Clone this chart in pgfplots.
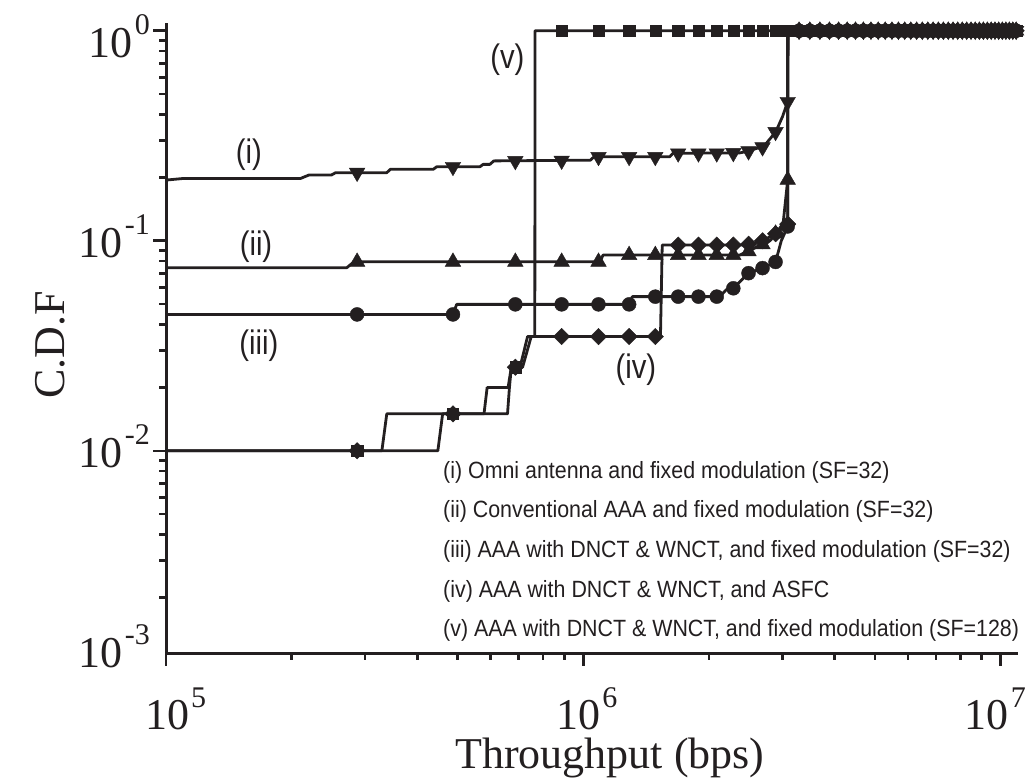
\documentclass[border=0pt]{standalone}
\usepackage{fontspec}
\setmainfont{Liberation Serif}
\newfontfamily\lsans[FakeStretch=0.91]{Liberation Sans}
\newfontfamily\csans[FakeStretch=0.86]{Liberation Sans}
\usepackage{pgfplots}
\usepackage{pgfplotstable}
\pgfplotsset{compat=1.18}
\definecolor{ink}{HTML}{231F20}
\newcommand\tl[1]{10\kern2pt\raisebox{0.52em}{\fontsize{30pt}{30pt}\selectfont #1}}
\newcommand\tlx[2]{\makebox[0pt][l]{\hspace*{#1}\tl{#2}}}

\pgfplotstableread{
x y
100000 0.1945
110000 0.198
210000 0.198
220000 0.2056
249000 0.2056
255000 0.211
338000 0.211
345000 0.219
437000 0.219
445000 0.225
565000 0.225
575000 0.231
597000 0.231
610000 0.240
1040000 0.242
1060000 0.251
1610000 0.251
1640000 0.261
2370000 0.262
2500000 0.268
2600000 0.2755
2700000 0.28
2890000 0.33
3000000 0.39
3087000 0.459
3090000 1
11000000 1
}\ci
\pgfplotstableread{
x y
287000 0.211
487000 0.225
687000 0.240
887000 0.241
1087000 0.251
1287000 0.251
1487000 0.251
1687000 0.261
1887000 0.261
2087000 0.261
2287000 0.262
2487000 0.267
2687000 0.279
2887000 0.33
3087000 0.459
}\mi
\pgfplotstableread{
x y
100000 0.0744
271000 0.0744
282000 0.0794
1095000 0.0794
1115000 0.0855
2370000 0.0855
2800000 0.1
2860000 0.105
3010000 0.121
3087000 0.195
3090000 1
11000000 1
}\cii
\pgfplotstableread{
x y
287000 0.0794
487000 0.0794
687000 0.0794
887000 0.0794
1087000 0.0794
1287000 0.0855
1487000 0.0855
1687000 0.0855
1887000 0.0855
2087000 0.0855
2287000 0.0855
2487000 0.089
2687000 0.096
2887000 0.108
3087000 0.195
}\mii
\pgfplotstableread{
x y
100000 0.0446
487000 0.0446
497000 0.0498
1290000 0.0498
1310000 0.0542
2120000 0.0542
2200000 0.0585
2287000 0.0594
2487000 0.0701
2687000 0.0741
2887000 0.0793
2980000 0.10
3087000 0.117
3090000 1
11000000 1
}\ciii
\pgfplotstableread{
x y
287000 0.0446
487000 0.0446
687000 0.0498
887000 0.0498
1087000 0.0498
1287000 0.0498
1487000 0.0542
1687000 0.0542
1887000 0.0542
2087000 0.0542
2287000 0.0594
2487000 0.0701
2687000 0.0741
2887000 0.0793
3087000 0.117
}\miii
\pgfplotstableread{
x y
100000 0.01
448000 0.01
460000 0.015
658000 0.015
665000 0.02
672000 0.025
715000 0.025
750000 0.035
1530000 0.035
1545000 0.0954
2450000 0.0954
2687000 0.10
2887000 0.108
3087000 0.12
3090000 1
11000000 1
}\civ
\pgfplotstableread{
x y
287000 0.01
487000 0.015
687000 0.025
887000 0.035
1087000 0.035
1287000 0.035
1487000 0.035
1687000 0.0954
1887000 0.0954
2087000 0.0954
2287000 0.0954
2487000 0.0963
2687000 0.10
2887000 0.108
3087000 0.12
}\miv
\pgfplotstableread{
x y
100000 0.01
329000 0.01
338000 0.015
578000 0.015
588000 0.02
660000 0.02
672000 0.025
705000 0.025
735000 0.035
765000 0.035
766000 1
11000000 1
}\cv
\pgfplotstableread{
x y
287000 0.01
487000 0.015
687000 0.025
887000 1
1087000 1
1287000 1
1487000 1
1687000 1
1887000 1
2087000 1
2287000 1
2487000 1
2687000 1
2887000 1
3087000 1
}\mv
\pgfplotstableread{
x y
3287000 1
3487000 1
3687000 1
3887000 1
4087000 1
4287000 1
4487000 1
4687000 1
4887000 1
5087000 1
5287000 1
5487000 1
5687000 1
5887000 1
6087000 1
6287000 1
6487000 1
6687000 1
6887000 1
7087000 1
7287000 1
7487000 1
7687000 1
7887000 1
8087000 1
8287000 1
8487000 1
8687000 1
8887000 1
9087000 1
9287000 1
9487000 1
9687000 1
9887000 1
10087000 1
10287000 1
10487000 1
10687000 1
10887000 1
}\band

\begin{document}
\begin{tikzpicture}
\useasboundingbox (-166pt,-125pt) rectangle (859pt,653pt);
\begin{axis}[
  at={(0pt,0pt)}, anchor=south west,
  scale only axis, width=852pt, height=630.3pt,
  xmode=log, ymode=log,
  xmin=1e5, xmax=1.1e7, ymin=1.09e-3, ymax=1.092,
  axis x line*=bottom, axis y line*=left,
  axis line style={line width=3pt, ink},
  tick align=outside,
  major tick length=13pt, minor tick length=7pt,
  every tick/.style={line width=2.6pt, ink},
  xtick={1e5,1e6,1e7}, xticklabels={\tlx{-21pt}{5},\tlx{-27pt}{6},\tlx{-36pt}{7}},
  minor xtick={2e5,3e5,4e5,5e5,6e5,7e5,8e5,9e5,2e6,3e6,4e6,5e6,6e6,7e6,8e6,9e6},
  ytick={1e-2,1e-1,1}, yticklabels={\tl{-2},\tl{-1},\raisebox{-10pt}{\tl{0}}},
  minor ytick={2e-3,3e-3,4e-3,5e-3,6e-3,7e-3,8e-3,9e-3,2e-2,3e-2,4e-2,5e-2,6e-2,7e-2,8e-2,9e-2,2e-1,3e-1,4e-1,5e-1,6e-1,7e-1,8e-1,9e-1},
  tick label style={font=\fontsize{44pt}{48pt}\selectfont, text=ink, inner sep=0pt},
  yticklabel style={anchor=base east, xshift=-3pt, yshift=-17pt},
  xticklabel style={anchor=base, yshift=-64pt},
  xlabel={Throughput (bps)},
  xlabel style={at={(axis description cs:0.521,-0.1825)}, anchor=base, font=\fontsize{44pt}{48pt}\selectfont, inner sep=0pt, text=ink},
  ylabel={C.D.F},
  ylabel style={at={(axis description cs:-0.1197,0.489)}, anchor=base, font=\fontsize{44pt}{48pt}\selectfont, inner sep=0pt, text=ink},
  clip=false,
]
\addplot[ink, line width=2.8pt, line join=round] table {\ci};
\addplot[ink, line width=2.8pt, line join=round] table {\cii};
\addplot[ink, line width=2.8pt, line join=round] table {\ciii};
\addplot[ink, line width=2.8pt, line join=round] table {\civ};
\addplot[ink, line width=2.8pt, line join=round] table {\cv};

\addplot[only marks, line width=0.4pt, mark=triangle*, mark size=9pt, mark options={rotate=180, fill=ink, draw=ink}] table {\mi};
\addplot[only marks, line width=0.4pt, mark=triangle*, mark size=9pt, mark options={rotate=180, fill=ink, draw=ink}] table {\band};
\addplot[only marks, line width=0.4pt, mark=triangle*, mark size=9pt, mark options={fill=ink, draw=ink}] table {\mii};
\addplot[only marks, line width=0.4pt, mark=triangle*, mark size=9pt, mark options={fill=ink, draw=ink}] table {\band};
\addplot[only marks, line width=0.4pt, mark=*, mark size=7pt, mark options={fill=ink, draw=ink}] table {\miii};
\addplot[only marks, line width=0.4pt, mark=*, mark size=7pt, mark options={fill=ink, draw=ink}] table {\band};
\addplot[only marks, line width=0.4pt, mark=square*, mark size=5.8pt, mark options={rotate=45, fill=ink, draw=ink}] table {\miv};
\addplot[only marks, line width=0.4pt, mark=square*, mark size=5.8pt, mark options={rotate=45, fill=ink, draw=ink}] table {\band};
\addplot[only marks, line width=0.4pt, mark=square*, mark size=5.6pt, mark options={fill=ink, draw=ink}] table {\mv};
\addplot[only marks, line width=0.4pt, mark=square*, mark size=5.6pt, mark options={fill=ink, draw=ink}] table {\band};

\node[anchor=base east, inner sep=0pt, font=\fontsize{44pt}{48pt}\selectfont, text=ink, xshift=-16pt, yshift=-14pt] at (rel axis cs:0,0) {\tl{-3}};

\node[font=\csans\fontsize{34pt}{36pt}\selectfont, text=ink] at (axis cs:1.58e5,0.256) {(i)};
\node[font=\csans\fontsize{34pt}{36pt}\selectfont, text=ink] at (axis cs:1.643e5,0.0933) {(ii)};
\node[font=\csans\fontsize{34pt}{36pt}\selectfont, text=ink] at (axis cs:1.67e5,0.0315) {(iii)};
\node[font=\csans\fontsize{34pt}{36pt}\selectfont, text=ink] at (axis cs:1.336e6,0.02423) {(iv)};
\node[font=\csans\fontsize{34pt}{36pt}\selectfont, text=ink] at (axis cs:6.577e5,0.7253) {(v)};

\node[anchor=base west, inner sep=0pt, font=\lsans\fontsize{23.5pt}{26pt}\selectfont, text=ink] at (rel axis cs:0.3251,0.2776) {(i) Omni antenna and fixed modulation (SF=32)};
\node[anchor=base west, inner sep=0pt, font=\lsans\fontsize{23.5pt}{26pt}\selectfont, text=ink] at (rel axis cs:0.3251,0.2147) {(ii) Conventional AAA and fixed modulation (SF=32)};
\node[anchor=base west, inner sep=0pt, font=\lsans\fontsize{23.5pt}{26pt}\selectfont, text=ink] at (rel axis cs:0.3251,0.1515) {(iii) AAA with DNCT \& WNCT, and fixed modulation (SF=32)};
\node[anchor=base west, inner sep=0pt, font=\lsans\fontsize{23.5pt}{26pt}\selectfont, text=ink] at (rel axis cs:0.3251,0.0885) {(iv) AAA with DNCT \& WNCT, and ASFC};
\node[anchor=base west, inner sep=0pt, font=\lsans\fontsize{23.5pt}{26pt}\selectfont, text=ink] at (rel axis cs:0.3251,0.0254) {(v) AAA with DNCT \& WNCT, and fixed modulation (SF=128)};
\end{axis}
\end{tikzpicture}
\end{document}
